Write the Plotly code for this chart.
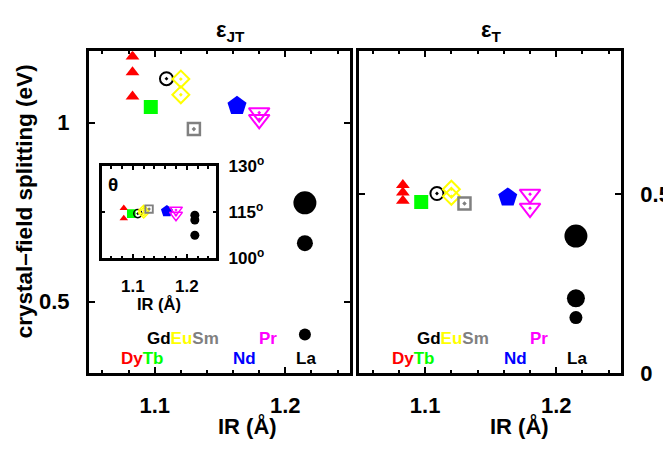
import plotly.graph_objects as go

# ---------------- data ----------------
elements = ["Dy", "Tb", "Gd", "Eu", "Sm", "Nd", "Pr", "La"]
ir = {"Dy": 1.083, "Tb": 1.097, "Gd": 1.109, "Eu": 1.120, "Sm": 1.130,
      "Nd": 1.163, "Pr": 1.180, "La": 1.215}

# Jahn-Teller splitting (eV)
eJT_Dy = [1.185, 1.141, 1.073]
eJT_Tb = [1.044]
eJT_Gd = [1.123]
eJT_Eu = [1.122, 1.078]
eJT_Sm = [0.982]
eJT_Nd = [1.047]
eJT_Pr = [1.028, 1.009]
eJT_La = [0.776, 0.663, 0.408]

# trigonal splitting (eV)
eT_Dy = [0.526, 0.505, 0.482]
eT_Tb = [0.478]
eT_Gd = [0.502]
eT_Eu = [0.514, 0.494]
eT_Sm = [0.474]
eT_Nd = [0.491]
eT_Pr = [0.500, 0.461]
eT_La = [0.383, 0.209, 0.155]

# angle theta (degrees), inset
th_Dy = [116.3, 112.9]
th_Tb = [114.5]
th_Gd = [114.5]
th_Eu = [115.5, 114.8]
th_Sm = [116.0]
th_Nd = [115.3]
th_Pr = [115.7, 114.0]
th_La = [114.0, 112.4, 107.4]

x_ticks = [1.1, 1.2]
x_ticklabels = ["1.1", "1.2"]
yl_ticks = [0.5, 1.0]
yl_ticklabels = ["0.5", "1"]
yr_ticks = [0, 0.5]
yr_ticklabels = ["0", "0.5"]
th_ticks = [100, 115, 130]
th_ticklabels = ["100<sup>o</sup>", "115<sup>o</sup>", "130<sup>o</sup>"]

# ---------------- styles ----------------
style = {
    "Dy": dict(symbol="triangle-up", color="#ff0000", size=12, lw=0),
    "Tb": dict(symbol="square", color="#00ff00", size=14, lw=0),
    "Gd": dict(symbol="circle-open-dot", color="#000000", size=13, lw=2),
    "Eu": dict(symbol="diamond-open-dot", color="#ffff00", size=13, lw=2),
    "Sm": dict(symbol="square-open-dot", color="#808080", size=12, lw=2.5),
    "Nd": dict(symbol="pentagon", color="#0000ff", size=20, lw=0),
    "Pr": dict(symbol="triangle-down-open-dot", color="#ff00ff", size=18, lw=2),
    "La": dict(symbol="circle", color="#000000", size=12, lw=0),
}
la_sizes_left = [23, 16, 12]
la_sizes_right = [23, 18, 13]
inset_scale = 0.62
la_sizes_inset = [9, 9, 9]

panels = {
    "left": dict(Dy=eJT_Dy, Tb=eJT_Tb, Gd=eJT_Gd, Eu=eJT_Eu, Sm=eJT_Sm, Nd=eJT_Nd, Pr=eJT_Pr, La=eJT_La),
    "right": dict(Dy=eT_Dy, Tb=eT_Tb, Gd=eT_Gd, Eu=eT_Eu, Sm=eT_Sm, Nd=eT_Nd, Pr=eT_Pr, La=eT_La),
    "inset": dict(Dy=th_Dy, Tb=th_Tb, Gd=th_Gd, Eu=th_Eu, Sm=th_Sm, Nd=th_Nd, Pr=th_Pr, La=th_La),
}
axes_for = {"left": ("x", "y"), "right": ("x2", "y2"), "inset": ("x3", "y3")}

fig = go.Figure()
for pname, pdata in panels.items():
    xa, ya = axes_for[pname]
    for el in elements:
        vals = pdata[el]
        st = style[el]
        if el == "La":
            size = {"left": la_sizes_left, "right": la_sizes_right, "inset": la_sizes_inset}[pname]
        else:
            size = st["size"] * (inset_scale if pname == "inset" else 1)
        lw = st["lw"] * (0.75 if pname == "inset" else 1)
        fig.add_trace(go.Scatter(
            x=[ir[el]] * len(vals), y=vals, mode="markers", xaxis=xa, yaxis=ya,
            showlegend=False, hoverinfo="skip", opacity=1,
            marker=dict(symbol=st["symbol"], color=st["color"], size=size, opacity=1,
                        line=dict(width=lw, color=st["color"])),
        ))

FONT = "Liberation Sans, Arial, Helvetica, sans-serif"
tickfont = dict(family=FONT, size=22, color="black", weight="bold")
small_tickfont = dict(family=FONT, size=17, color="black", weight="bold")

common_x = dict(range=[1.0495, 1.2495], tickvals=x_ticks, ticktext=x_ticklabels,
                ticks="inside", ticklen=6, tickwidth=2, tickcolor="black",
                showline=True, linewidth=2.5, linecolor="black", mirror="allticks",
                showgrid=False, zeroline=False, tickfont=tickfont, ticklabelstandoff=11,
                minor=dict(dtick=0.02, tick0=1.0, ticks="inside", ticklen=3, tickwidth=1.5,
                           tickcolor="black", showgrid=False))
common_y = dict(ticks="inside", ticklen=6, tickwidth=2, tickcolor="black",
                showline=True, linewidth=2.5, linecolor="black", mirror="allticks",
                showgrid=False, zeroline=False, tickfont=tickfont, ticklabelstandoff=12)

# the page body has an 8px margin: work in window pixels and convert
OFF = 8
W, H = 671 - OFF, 454 - OFF
def px(x):
    return (x - OFF) / W
def py(y):
    return 1 - (y - OFF) / H

fig.update_layout(
    width=W, height=H, margin=dict(l=0, r=0, t=0, b=0),
    paper_bgcolor="white", plot_bgcolor="white",
    font=dict(family=FONT, color="black", weight="bold"),
    xaxis=dict(domain=[px(89), px(351)], anchor="y", **common_x),
    yaxis=dict(domain=[py(382), py(41)], anchor="x", range=[0.3, 1.2],
               tickvals=yl_ticks, ticktext=yl_ticklabels, side="left", **common_y),
    xaxis2=dict(domain=[px(360), px(623)], anchor="y2", **common_x),
    yaxis2=dict(domain=[py(382), py(41)], anchor="x2", range=[0, 0.9],
                tickvals=yr_ticks, ticktext=yr_ticklabels, side="right", **common_y),
    xaxis3=dict(domain=[px(102), px(217)], anchor="y3", range=[1.042, 1.255],
                tickvals=x_ticks, ticktext=x_ticklabels,
                ticks="inside", ticklen=4, tickwidth=1.5, tickcolor="black",
                showline=True, linewidth=2.5, linecolor="black", mirror="allticks",
                showgrid=False, zeroline=False, tickfont=small_tickfont, ticklabelstandoff=11,
                minor=dict(dtick=0.02, tick0=1.0, ticks="inside", ticklen=2.5, tickwidth=1.5,
                           tickcolor="black", showgrid=False)),
    yaxis3=dict(domain=[py(260), py(163)], anchor="x3", range=[100, 130],
                tickvals=th_ticks, ticktext=th_ticklabels, side="right",
                ticks="inside", ticklen=4, tickwidth=1.5, tickcolor="black",
                showline=True, linewidth=2.5, linecolor="black", mirror="allticks",
                showgrid=False, zeroline=False, tickfont=small_tickfont, ticklabelstandoff=6),
)

ann = []
def text_ann(text, x, y, size, xref="paper", yref="paper", textangle=0):
    ann.append(dict(text=text, x=x, y=y, xref=xref, yref=yref, showarrow=False,
                    xanchor="center", yanchor="middle", textangle=textangle,
                    font=dict(family=FONT, size=size, color="black", weight="bold")))

# titles and axis labels
text_ann("ε<sub>JT</sub>", px(231), py(20), 22)
text_ann("ε<sub>T</sub>", px(492), py(20), 22)
text_ann("IR (Å)", px(248), py(438), 22)
text_ann("IR (Å)", px(521), py(438), 22)
text_ann("crystal–field splitting (eV)", px(24), py(200), 22.5, textangle=-90)
text_ann("θ", px(113), py(182), 19)
text_ann("IR (Å)", px(159), py(309), 16.5)

# element labels
label_x = {"DyTb": 1.091, "GdEuSm": 1.1215, "Nd": 1.169, "Pr": 1.1866, "La": 1.2155}
label_text = {
    "GdEuSm": "<span style='color:#000000'>Gd</span><span style='color:#ffff00'>Eu</span><span style='color:#808080'>Sm</span>",
    "DyTb": "<span style='color:#ff0000'>Dy</span><span style='color:#00ff00'>Tb</span>",
    "Nd": "<span style='color:#0000ff'>Nd</span>",
    "Pr": "<span style='color:#ff00ff'>Pr</span>",
    "La": "<span style='color:#000000'>La</span>",
}
label_row = {"GdEuSm": 0, "Pr": 0, "DyTb": 1, "Nd": 1, "La": 1}
row_y = {"left": [0.3977, 0.3396], "right": [0.0977, 0.0396]}
for pname, (xa, ya) in [("left", ("x", "y")), ("right", ("x2", "y2"))]:
    for key, txt in label_text.items():
        text_ann(txt, label_x[key], row_y[pname][label_row[key]], 17, xref=xa, yref=ya)

fig.update_layout(annotations=ann)
fig.write_html("out.html")
